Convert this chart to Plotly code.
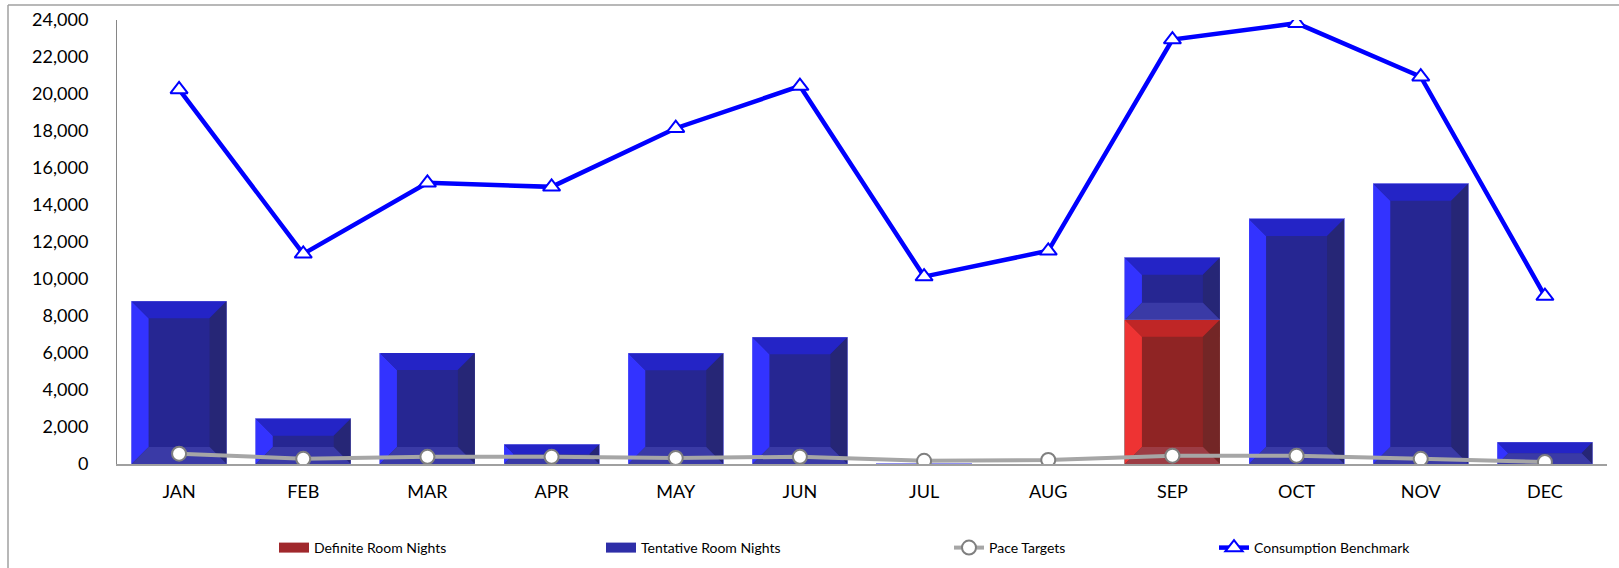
import plotly.graph_objects as go

months = ["JAN", "FEB", "MAR", "APR", "MAY", "JUN", "JUL", "AUG", "SEP", "OCT", "NOV", "DEC"]
definite = [0, 0, 0, 0, 0, 0, 0, 0, 7800, 0, 0, 0]
tentative = [8800, 2450, 6000, 1060, 5980, 6850, 40, 0, 3350, 13250, 15150, 1170]
pace = [560, 280, 390, 390, 330, 390, 170, 220, 450, 450, 280, 110]
benchmark = [20250, 11360, 15200, 14980, 18150, 20430, 10130, 11525, 22940, 23830, 20935, 9075]
y_ticks = [0, 2000, 4000, 6000, 8000, 10000, 12000, 14000, 16000, 18000, 20000, 22000, 24000]

W, H = 1619, 568
ML, MR, MT, MB = 117, 12, 20, 104
PW, PH = W - ML - MR, H - MT - MB
YMAX = 24000
PX = PW / len(months)      # px per category
PY = PH / YMAX             # px per unit
BW = 0.765                 # bar width in category units
BEV = 17                   # bevel depth px

FONT = "Lato, 'Open Sans', sans-serif"

xs = list(range(len(months)))


def bevel_polys(base, vals):
    out = {k: ([], []) for k in ("left", "top", "right", "bottom")}
    for i, (b, v) in enumerate(zip(base, vals)):
        if v <= 0:
            continue
        d = min(BEV, v * PY / 2, BW * PX / 2)
        dx, dy = d / PX, d / PY
        xl, xr = i - BW / 2, i + BW / 2
        y0, y1 = b, b + v
        polys = {
            "left": [(xl, y0), (xl, y1), (xl + dx, y1 - dy), (xl + dx, y0 + dy)],
            "top": [(xl, y1), (xr, y1), (xr - dx, y1 - dy), (xl + dx, y1 - dy)],
            "right": [(xr, y1), (xr, y0), (xr - dx, y0 + dy), (xr - dx, y1 - dy)],
            "bottom": [(xr, y0), (xl, y0), (xl + dx, y0 + dy), (xr - dx, y0 + dy)],
        }
        for k, pts in polys.items():
            px_, py_ = out[k]
            for (a, c) in pts + [pts[0]]:
                px_.append(a)
                py_.append(c)
            px_.append(None)
            py_.append(None)
    return out


fig = go.Figure()

blue = dict(body="#262692", left="#3333FF", top="#2424C6", right="#262676", bottom="#3A3AA6")
red = dict(body="#8F2424", left="#EE3333", top="#BF2626", right="#732626", bottom="#9C3C44")

fig.add_trace(go.Bar(x=xs, y=definite, name="Definite Room Nights", width=BW,
                     marker=dict(color=red["body"], line=dict(color="#B08080", width=1)),
                     showlegend=False, hoverinfo="skip"))
fig.add_trace(go.Bar(x=xs, y=tentative, name="Tentative Room Nights", width=BW,
                     marker=dict(color=blue["body"], line=dict(color="#9090F0", width=1)),
                     showlegend=False, hoverinfo="skip"))

for base, vals, cols in ((([0] * len(months)), definite, red), (definite, tentative, blue)):
    polys = bevel_polys(base, vals)
    for k, (px_, py_) in polys.items():
        fig.add_trace(go.Scatter(x=px_, y=py_, mode="lines", fill="toself",
                                 fillcolor=cols[k], line=dict(width=0, color=cols[k]),
                                 showlegend=False, hoverinfo="skip"))

# legend keys for the bar series (wide rectangular swatches)
fig.add_trace(go.Scatter(x=[None], y=[None], mode="lines", name="Definite Room Nights",
                         line=dict(color="#A0282C", width=12), legend="legend"))
fig.add_trace(go.Scatter(x=[None], y=[None], mode="lines", name="Tentative Room Nights",
                         line=dict(color="#2E2EA8", width=12), legend="legend2"))

fig.add_trace(go.Scatter(x=xs, y=pace, name="Pace Targets", mode="lines+markers",
                         line=dict(color="#A6A6A6", width=4),
                         marker=dict(symbol="circle", size=14, color="white",
                                     line=dict(color="#7F7F7F", width=2)),
                         legend="legend3", hoverinfo="skip"))
fig.add_trace(go.Scatter(x=xs, y=benchmark, name="Consumption Benchmark", mode="lines+markers",
                         line=dict(color="#0000FF", width=4.5),
                         marker=dict(symbol="triangle-up", size=15, color="white",
                                     line=dict(color="#0000FF", width=2)),
                         legend="legend4", hoverinfo="skip"))


def xp(px):
    return (px - ML) / PW


def yp(py):
    return (H - MB - py) / PH


leg_common = dict(orientation="h", yanchor="middle", y=yp(548), xanchor="left",
                  font=dict(family=FONT, size=14, color="#000000"),
                  bgcolor="rgba(0,0,0,0)", itemwidth=30)

fig.update_layout(
    width=W, height=H,
    margin=dict(l=ML, r=MR, t=MT, b=MB, autoexpand=False),
    paper_bgcolor="white", plot_bgcolor="white",
    barmode="stack",
    font=dict(family=FONT, color="#000000"),
    xaxis=dict(range=[-0.5, len(months) - 0.5], tickvals=xs, ticktext=months, automargin=False,
               showgrid=False, zeroline=False, showline=True, linecolor="#A0A0A0", linewidth=1.5,
               ticks="", ticklabelstandoff=11, tickfont=dict(family=FONT, size=18, color="#000000")),
    yaxis=dict(range=[0, YMAX], tickvals=y_ticks, tickformat=",d", automargin=False,
               showgrid=False, zeroline=False, showline=True, linecolor="#868686", linewidth=1,
               ticks="", ticklabelstandoff=24, tickfont=dict(family=FONT, size=18, color="#000000")),
    legend=dict(leg_common, x=xp(274)),
    legend2=dict(leg_common, x=xp(601)),
    legend3=dict(leg_common, x=xp(949)),
    legend4=dict(leg_common, x=xp(1214)),
    shapes=[
        dict(type="line", xref="paper", yref="paper", x0=xp(8), x1=xp(8), y0=yp(5), y1=yp(600),
             line=dict(color="#A0A0A0", width=1.5)),
        dict(type="line", xref="paper", yref="paper", x0=xp(8), x1=xp(1640), y0=yp(5), y1=yp(5),
             line=dict(color="#A0A0A0", width=1.5)),
    ],
)

fig.write_html("out.html")
